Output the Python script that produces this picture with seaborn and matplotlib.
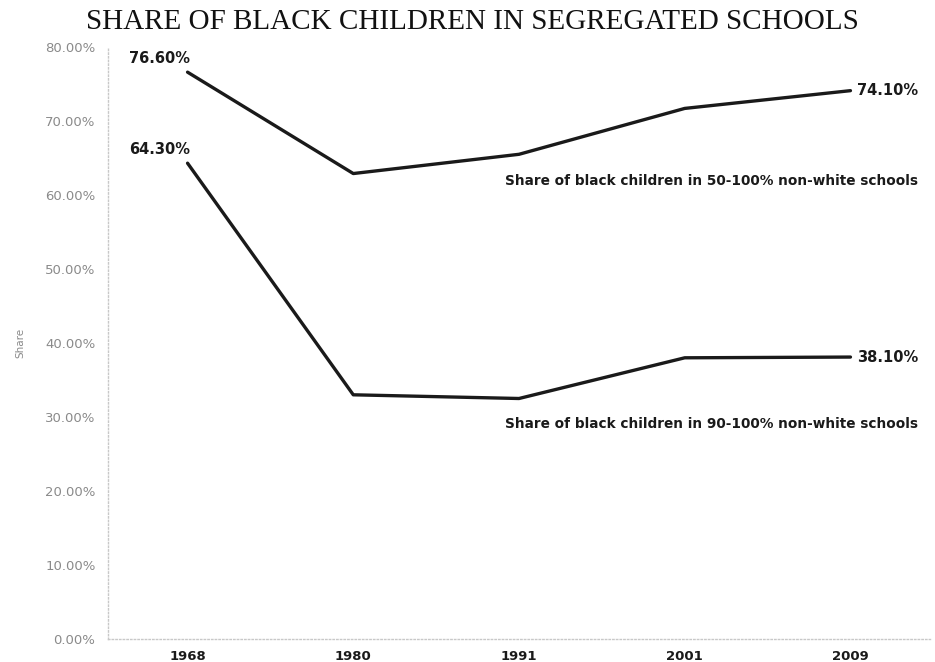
import matplotlib
matplotlib.use("Agg")
import matplotlib.pyplot as plt
import seaborn as sns
import pandas as pd
from matplotlib.ticker import FuncFormatter

years = ["1968", "1980", "1991", "2001", "2009"]
share_50_100 = [76.6, 62.9, 65.5, 71.7, 74.1]
share_90_100 = [64.3, 33.0, 32.5, 38.0, 38.1]
series_names = ["Share of black children in 50-100% non-white schools",
                "Share of black children in 90-100% non-white schools"]
y_ticks = [0, 10, 20, 30, 40, 50, 60, 70, 80]

df = pd.DataFrame({
    "Year": years * 2,
    "Share": share_50_100 + share_90_100,
    "Series": [series_names[0]] * len(years) + [series_names[1]] * len(years),
})

sns.set_theme(style="white")
plt.rcParams['font.family'] = ['DejaVu Sans']

fig = plt.figure(figsize=(9.35, 6.62), dpi=100)
ax = fig.add_axes([108/935, 1 - 639/662, (930-108)/935, (639-47)/662])

sns.lineplot(data=df, x="Year", y="Share", hue="Series",
             palette=["#1a1a1a", "#1a1a1a"], linewidth=2.4,
             legend=False, sort=False, ax=ax)

ax.set_ylim(0, 80)
ax.set_xlim(-0.48, 4.48)
ax.set_yticks(y_ticks)
ax.yaxis.set_major_formatter(FuncFormatter(lambda v, p: f"{v:.2f}%"))
ax.tick_params(axis="y", labelsize=9.5, labelcolor="#8a8a8a", length=0, pad=9)
ax.tick_params(axis="x", labelsize=9.5, labelcolor="#1a1a1a", length=0, pad=8)
for lbl in ax.get_xticklabels():
    lbl.set_fontweight("bold")
ax.set_xlabel("")
ax.set_ylabel("Share", fontsize=7.5, color="#8a8a8a", labelpad=14)

for side in ["top", "right"]:
    ax.spines[side].set_visible(False)
for side in ["left", "bottom"]:
    ax.spines[side].set_color("#c8c8c8")
    ax.spines[side].set_linestyle(":")
    ax.spines[side].set_linewidth(1.0)
ax.grid(False)

# value labels
for vals in (share_50_100, share_90_100):
    ax.annotate(f"{vals[0]:.2f}%", xy=(0, vals[0]), xytext=(-20, 10),
                textcoords="offset points", ha="center", va="center",
                fontsize=10.5, fontweight="bold", color="#1a1a1a")
    ax.annotate(f"{vals[-1]:.2f}%", xy=(len(years) - 1, vals[-1]), xytext=(5, 0),
                textcoords="offset points", ha="left", va="center",
                fontsize=10.5, fontweight="bold", color="#1a1a1a")

# series labels
ax.text(4.41, 61.9, series_names[0], ha="right", va="center",
        fontsize=9.8, fontweight="bold", color="#1a1a1a")
ax.text(4.41, 29.0, series_names[1], ha="right", va="center",
        fontsize=9.8, fontweight="bold", color="#1a1a1a")

fig.text(472/935, 1 - 22/662, "SHARE OF BLACK CHILDREN IN SEGREGATED SCHOOLS",
         ha="center", va="center", fontsize=21, family="Liberation Serif",
         color="#111111")

fig.savefig("out.png", dpi=100)
